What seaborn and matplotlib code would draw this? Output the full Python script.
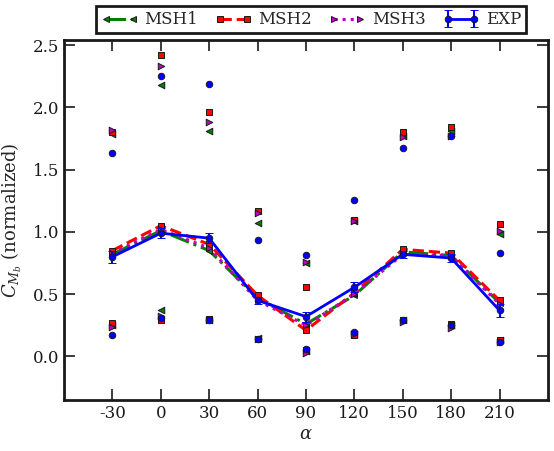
import seaborn as sns
import matplotlib.pyplot as plt

alpha = [-30, 0, 30, 60, 90, 120, 150, 180, 210]

# middle (connected) values
msh1_mid = [0.82, 1.01, 0.85, 0.47, 0.26, 0.49, 0.84, 0.81, 0.43]
msh2_mid = [0.85, 1.05, 0.90, 0.49, 0.21, 0.51, 0.86, 0.83, 0.45]
msh3_mid = [0.83, 1.02, 0.87, 0.45, 0.25, 0.50, 0.82, 0.81, 0.42]
exp_mid = [0.80, 0.99, 0.95, 0.45, 0.32, 0.555, 0.82, 0.79, 0.37]
exp_err = [0.05, 0.04, 0.04, 0.03, 0.04, 0.04, 0.03, 0.03, 0.05]

# upper / lower scattered values
msh1_hi = [1.79, 2.18, 1.81, 1.07, 0.75, 1.09, 1.77, 1.81, 0.98]
msh1_lo = [0.25, 0.37, 0.29, 0.15, 0.04, 0.18, 0.29, 0.25, 0.13]
msh2_hi = [1.80, 2.42, 1.965, 1.17, 0.555, 1.095, 1.80, 1.84, 1.06]
msh2_lo = [0.27, 0.29, 0.30, 0.14, 0.05, 0.17, 0.29, 0.26, 0.13]
msh3_hi = [1.82, 2.33, 1.88, 1.155, 0.756, 1.09, 1.76, 1.77, 1.01]
msh3_lo = [0.24, 0.325, 0.29, 0.14, 0.03, 0.18, 0.28, 0.23, 0.12]
exp_hi = [1.63, 2.25, 2.19, 0.935, 0.815, 1.256, 1.67, 1.77, 0.83]
exp_lo = [0.17, 0.31, 0.29, 0.14, 0.06, 0.20, 0.29, 0.25, 0.12]

sns.set_theme(style="ticks")
plt.rcParams["font.family"] = ["DejaVu Serif"]
plt.rcParams["mathtext.fontset"] = "dejavuserif"

GREEN, RED, MAG, BLUE = "#008000", "#FF0000", "#BF00BF", "#0000FF"

fig = plt.figure(figsize=(5.54, 4.51), dpi=100)
ax = fig.add_axes([0.1155, 0.113, 0.8735, 0.798])

series = [
    ("MSH1", msh1_mid, msh1_hi, msh1_lo, GREEN, "<", "-."),
    ("MSH2", msh2_mid, msh2_hi, msh2_lo, RED, "s", "--"),
    ("MSH3", msh3_mid, msh3_hi, msh3_lo, MAG, ">", ":"),
]
for name, mid, hi, lo, col, mk, ls in series:
    sns.scatterplot(x=alpha + alpha, y=hi + lo, marker=mk, color=col,
                    edgecolor="k", s=22, linewidth=0.7, legend=False,
                    ax=ax, zorder=3)
    sns.lineplot(x=alpha, y=mid, color=col, linestyle=ls, lw=2.2,
                 marker=mk, markersize=4.7, markeredgecolor="k",
                 markeredgewidth=0.7, label=name, ax=ax, zorder=4)

sns.scatterplot(x=alpha + alpha, y=exp_hi + exp_lo, marker="o", color=BLUE,
                edgecolor="k", s=22, linewidth=0.7, legend=False,
                ax=ax, zorder=3)
ax.errorbar(alpha, exp_mid, yerr=exp_err, color=BLUE, lw=2, marker="o",
            markersize=4.7, markeredgecolor="k", markeredgewidth=0.7,
            capsize=3, capthick=1.5, elinewidth=1.5, label="EXP", zorder=5)

ax.set_xlim(-60, 240)
ax.set_ylim(-0.35, 2.54)
ax.set_xticks(alpha)
ax.set_xticklabels([str(a) for a in alpha])
ax.set_yticks([0.0, 0.5, 1.0, 1.5, 2.0, 2.5])
ax.set_yticklabels(["0.0", "0.5", "1.0", "1.5", "2.0", "2.5"])
ax.tick_params(direction="in", top=True, right=True, length=8, width=1.2,
               labelsize=12, colors="k")
for s in ax.spines.values():
    s.set_linewidth(2)
    s.set_color("k")

ax.set_xlabel(r"$\alpha$", fontsize=13, labelpad=2)
ax.set_ylabel(r"$C_{M_b}$ (normalized)", fontsize=13, labelpad=6)

handles, labels = ax.get_legend_handles_labels()
leg = ax.legend(handles, labels, loc="lower center", bbox_to_anchor=(0.511, 1.0),
                ncol=4, numpoints=2, fontsize=12, frameon=True, fancybox=False,
                edgecolor="k", framealpha=1, borderaxespad=0.4,
                handlelength=2.2, columnspacing=1.0, borderpad=0.3,
                handletextpad=0.4)
leg.get_frame().set_linewidth(2)

fig.savefig("out.png", dpi=100)
